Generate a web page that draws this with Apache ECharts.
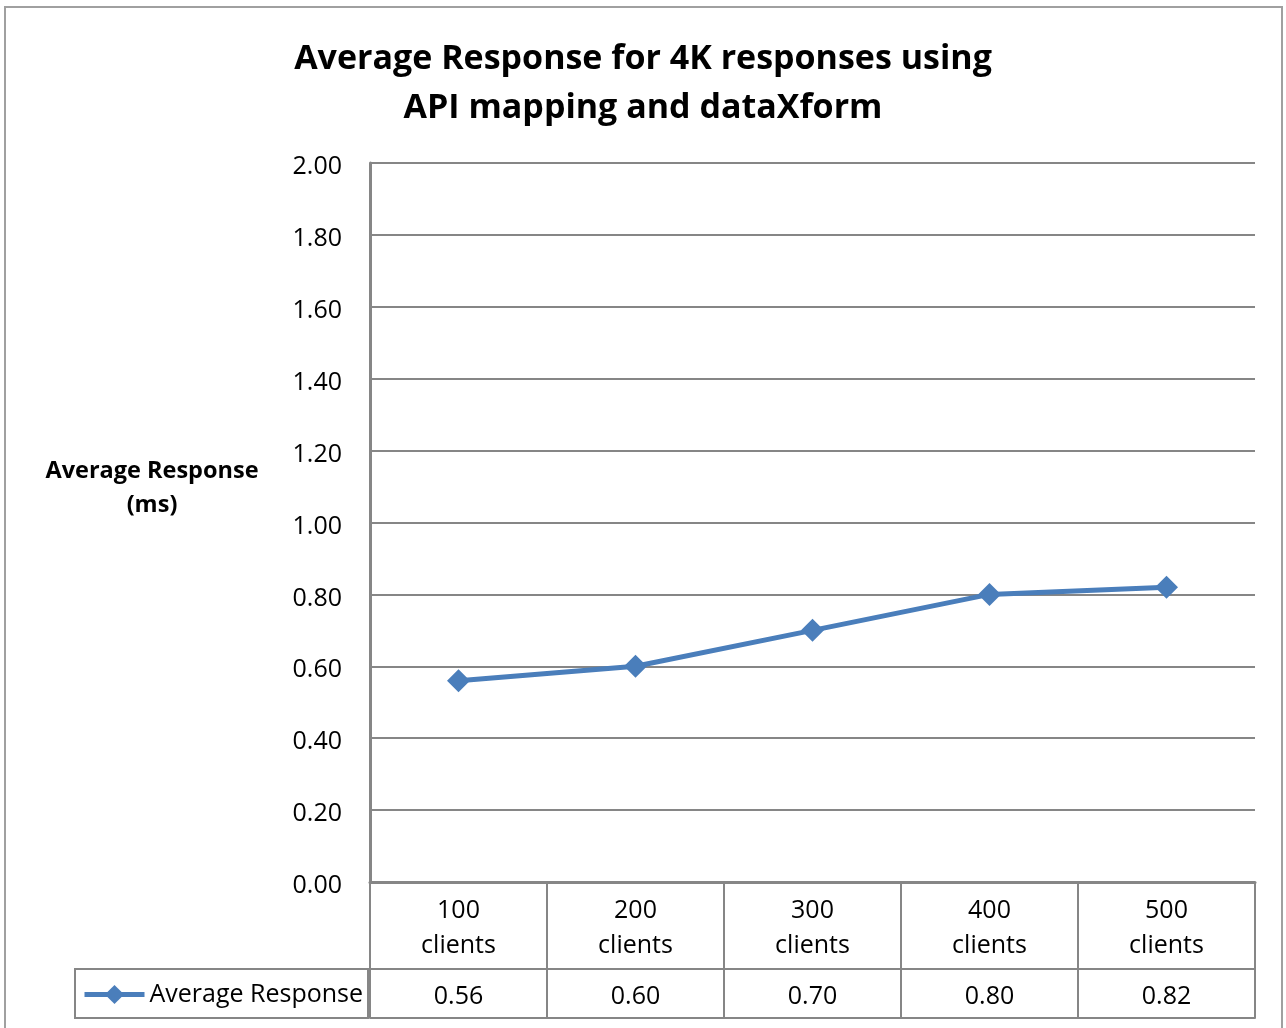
<!DOCTYPE html>
<html>
<head>
<meta charset="utf-8">
<title>Average Response for 4K responses</title>
<script src="https://cdn.jsdelivr.net/npm/echarts@6/dist/echarts.min.js"></script>
<style>
  html, body { margin: 0; padding: 0; background: #ffffff; }
  #chart { width: 1286px; height: 1028px; }
</style>
</head>
<body>
<div id="chart"></div>
<script>
// Client load levels and measured average response (ms)
const categories = ['100\nclients', '200\nclients', '300\nclients', '400\nclients', '500\nclients'];
const responseMs = [0.56, 0.60, 0.70, 0.80, 0.82];
const seriesName = 'Average Response';
const yTicks = { min: 0, max: 2, interval: 0.2 };

const FONT = '"Open Sans", sans-serif';
const GRID_GRAY = '#868686';
const LINE_BLUE = '#4a7ebb';

const chart = echarts.init(document.getElementById('chart'), null, { renderer: 'canvas' });

const option = {
  backgroundColor: '#ffffff',
  animation: false,
  textStyle: { fontFamily: FONT },
  title: {
    text: 'Average Response for 4K responses using\nAPI mapping and dataXform',
    left: 'center',
    top: 30,
    textStyle: { fontFamily: FONT, fontSize: 34, fontWeight: 'bold', color: '#000', lineHeight: 49 }
  },
  legend: {
    left: 82,
    top: 982,
    padding: 0,
    itemWidth: 60,
    itemHeight: 24,
    lineStyle: { width: 5 },
    textStyle: { fontFamily: FONT, fontSize: 25, color: '#000' },
    data: [seriesName]
  },
  grid: { left: 370, right: 31, top: 163, bottom: 146, containLabel: false },
  xAxis: [
    {
      type: 'category',
      data: categories,
      boundaryGap: true,
      axisLine: { show: true, lineStyle: { color: GRID_GRAY, width: 3 } },
      axisTick: { show: true, length: 87, lineStyle: { color: GRID_GRAY, width: 2 } },
      axisLabel: { color: '#000', fontSize: 25, lineHeight: 35, margin: 11, fontFamily: FONT }
    },
    {
      // value row of the data table
      type: 'category',
      data: categories,
      position: 'bottom',
      offset: 87,
      boundaryGap: true,
      axisLine: { show: true, lineStyle: { color: GRID_GRAY, width: 2 } },
      axisTick: { show: true, length: 49, lineStyle: { color: GRID_GRAY, width: 2 } },
      axisLabel: {
        color: '#000', fontSize: 25, margin: 15, fontFamily: FONT,
        formatter: (v, i) => responseMs[i].toFixed(2)
      }
    },
    {
      // bottom edge of the data table
      type: 'category',
      data: categories,
      position: 'bottom',
      offset: 136,
      axisLine: { show: true, lineStyle: { color: GRID_GRAY, width: 2 } },
      axisTick: { show: false },
      axisLabel: { show: false }
    }
  ],
  yAxis: {
    type: 'value',
    min: yTicks.min,
    max: yTicks.max,
    interval: yTicks.interval,
    name: 'Average Response\n(ms)',
    nameLocation: 'middle',
    nameRotate: 0,
    nameGap: 218,
    nameTextStyle: {
      fontFamily: FONT, fontSize: 23.5, fontWeight: 'bold', color: '#000',
      lineHeight: 34, align: 'center', verticalAlign: 'bottom'
    },
    axisLine: { show: true, lineStyle: { color: GRID_GRAY, width: 3 } },
    axisTick: { show: false },
    splitLine: { show: true, lineStyle: { color: GRID_GRAY, width: 2 } },
    axisLabel: {
      color: '#000', fontSize: 25, margin: 28, fontFamily: FONT,
      formatter: v => '{t|' + v.toFixed(2) + '}',
      rich: {
        t: { fontFamily: FONT, fontSize: 25, color: '#000', padding: [8, 0, 0, 0] }
      }
    }
  },
  graphic: [
    {
      // chart frame
      type: 'rect',
      shape: { x: 5, y: 7, width: 1277, height: 1040 },
      style: { fill: 'none', stroke: '#a0a0a0', lineWidth: 2 },
      silent: true, z: -1
    },
    {
      // legend cell of the data table
      type: 'rect',
      shape: { x: 75, y: 969, width: 293, height: 49 },
      style: { fill: 'none', stroke: GRID_GRAY, lineWidth: 2 },
      silent: true, z: 0
    }
  ],
  series: [
    {
      name: seriesName,
      type: 'line',
      data: responseMs,
      xAxisIndex: 0,
      symbol: 'diamond',
      symbolSize: 23,
      lineStyle: { color: LINE_BLUE, width: 5 },
      itemStyle: { color: LINE_BLUE },
      z: 5
    }
  ]
};

chart.setOption(option);
</script>
</body>
</html>
